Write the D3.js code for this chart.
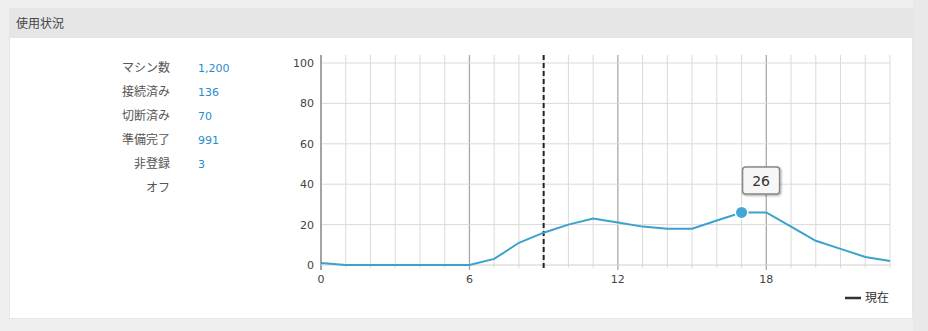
<!DOCTYPE html>
<html><head><meta charset="utf-8">
<script src="https://cdn.jsdelivr.net/npm/d3@7/dist/d3.min.js"></script>
<style>
body{margin:0;background:#efefef;font-family:"Noto Sans CJK JP","Noto Sans",sans-serif;}
svg{display:block;}
</style></head><body>
<svg id="c" width="928" height="331"></svg>
<script>
const title = "使用状況";
const statLabels = ["マシン数","接続済み","切断済み","準備完了","非登録","オフ"];
const statValues = ["1,200","136","70","991","3",""];
const hours = [0,1,2,3,4,5,6,7,8,9,10,11,12,13,14,15,16,17,18,19,20,21,22,23];
const usage = [1,0,0,0,0,0,0,3,11,16,20,23,21,19,18,18,22,26,26,19,12,8,4,2];
const yTicks = [0,20,40,60,80,100];
const xTicks = [0,6,12,18];
const currentHour = 9;
const highlightHour = 17;
const legendLabel = "現在";
const numFont = "'DejaVu Sans',sans-serif";

const svg = d3.select("#c");
// panel
svg.append("rect").attr("x",0).attr("y",0).attr("width",928).attr("height",331).attr("fill","#efefef");
svg.append("rect").attr("x",9).attr("y",8).attr("width",904).attr("height",311).attr("fill","#e6e6e6");
svg.append("rect").attr("x",10).attr("y",38).attr("width",902).attr("height",280).attr("fill","#ffffff");
svg.append("rect").attr("x",913).attr("y",0).attr("width",15).attr("height",331).attr("fill","#e9e9e9");
svg.append("text").attr("x",16).attr("y",28).attr("font-size",12).attr("fill","#444").text(title);

// stats
statLabels.forEach((l,i)=>{
  const yy = 72 + i*24;
  svg.append("text").attr("x",170).attr("y",yy).attr("text-anchor","end").attr("font-size",12).attr("fill","#555").text(l);
  svg.append("text").attr("x",198).attr("y",yy).attr("font-size",11).attr("fill","#2b8ccc").attr("font-family",numFont).text(statValues[i]);
});

const x = d3.scaleLinear().domain([0,23]).range([321,890]);
const y = d3.scaleLinear().domain([0,100]).range([265,63]);
const plotTop = 55;

const g = svg.append("g");
// vertical grid
g.selectAll(".vg").data(hours).join("line")
  .attr("x1",d=>x(d)).attr("x2",d=>x(d)).attr("y1",plotTop).attr("y2",d=>xTicks.includes(d)?270:268)
  .attr("stroke",d=>xTicks.includes(d)?"#a8a8a8":"#dadada").attr("stroke-width",d=>xTicks.includes(d)?1.3:1);
// horizontal grid
g.selectAll(".hg").data(yTicks.filter(d=>d>0)).join("line")
  .attr("x1",x(0)).attr("x2",x(23)).attr("y1",d=>y(d)).attr("y2",d=>y(d))
  .attr("stroke","#dadada");
// axes
g.append("line").attr("x1",x(0)).attr("x2",x(0)).attr("y1",plotTop).attr("y2",270).attr("stroke","#999").attr("stroke-width",1.5);
g.append("line").attr("x1",x(0)).attr("x2",x(23)).attr("y1",y(0)).attr("y2",y(0)).attr("stroke","#cfcfcf");

// tick labels
g.selectAll(".yt").data(yTicks).join("text")
  .attr("x",314).attr("y",d=>y(d)+4).attr("text-anchor","end").attr("font-size",11).attr("fill","#444")
  .attr("font-family",numFont).text(d=>d);
g.selectAll(".xt").data(xTicks).join("text")
  .attr("x",d=>x(d)).attr("y",283).attr("text-anchor","middle").attr("font-size",11).attr("fill","#444")
  .attr("font-family",numFont).text(d=>d);

// current dashed line
g.append("line").attr("x1",x(currentHour)).attr("x2",x(currentHour)).attr("y1",plotTop).attr("y2",270)
  .attr("stroke","#222").attr("stroke-width",2).attr("stroke-dasharray","5,3");

// line
const line = d3.line().x((d,i)=>x(hours[i])).y(d=>y(d));
g.append("path").datum(usage).attr("d",line).attr("fill","none").attr("stroke","#3aa3cc").attr("stroke-width",2);

// highlight point
const hx = x(highlightHour), hy = y(usage[hours.indexOf(highlightHour)]);
g.append("circle").attr("cx",hx).attr("cy",hy).attr("r",7).attr("fill","#fff");
g.append("circle").attr("cx",hx).attr("cy",hy).attr("r",5.5).attr("fill","#42a7d6");

// tooltip
const defs = svg.append("defs");
const f = defs.append("filter").attr("id","sh").attr("x","-30%").attr("y","-30%").attr("width","160%").attr("height","160%");
f.append("feDropShadow").attr("dx",1).attr("dy",1).attr("stdDeviation",1.2).attr("flood-color","#000").attr("flood-opacity",0.35);
g.append("rect").attr("x",hx+1).attr("y",167).attr("width",37).attr("height",27).attr("rx",3)
  .attr("fill","#f7f7f7").attr("stroke","#888").attr("stroke-width",1.5).attr("filter","url(#sh)");
g.append("text").attr("x",hx+19.5).attr("y",185.5).attr("text-anchor","middle").attr("font-size",14)
  .attr("fill","#333").attr("font-family",numFont).text(usage[hours.indexOf(highlightHour)]);

// legend
svg.append("line").attr("x1",845).attr("x2",861).attr("y1",298).attr("y2",298).attr("stroke","#333").attr("stroke-width",2.5);
svg.append("text").attr("x",865).attr("y",302).attr("font-size",12).attr("fill","#333").text(legendLabel);
</script>
</body></html>
